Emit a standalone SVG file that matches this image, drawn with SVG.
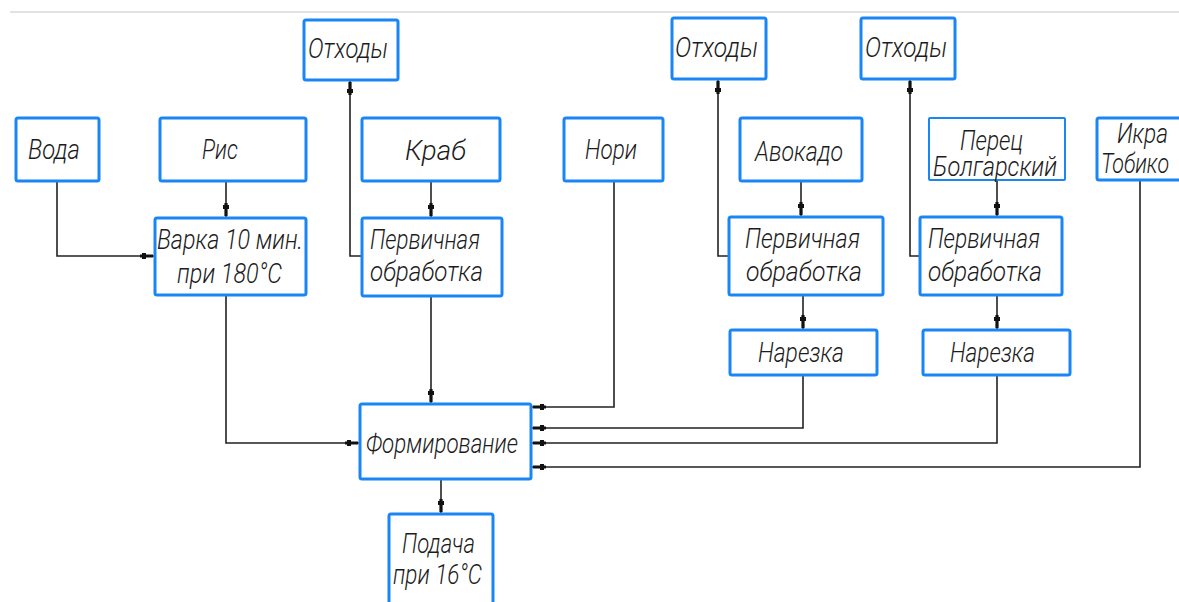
<svg xmlns="http://www.w3.org/2000/svg" width="1179" height="602" viewBox="0 0 1179 602">
  <defs>
    <style>
      .box { fill: #ffffff; stroke: #1a86f5; stroke-width: 3; }
      .thin { stroke-width: 2; }
      .lbl { font-family: Roboto, "Liberation Sans Narrow", "DejaVu Sans Condensed", sans-serif; font-style: italic; font-weight: 300; font-size: 28px; fill: #1c1c1c; }
      .wire { fill: none; stroke: #222222; stroke-width: 1.6; }
    </style>
    <marker id="tip" markerUnits="userSpaceOnUse" viewBox="-16 -4 17 8" refX="0" refY="0" markerWidth="17" markerHeight="8" orient="auto">
      <path d="M-14,-1.6 H-1 V1.6 H-14 Z M-12,-3 H-8 V3 H-12 Z" fill="#111111"/>
    </marker>
  </defs>

  <rect width="1179" height="602" fill="#ffffff"/>
  <line x1="10" y1="12" x2="1179" y2="12" stroke="#d8d8d8" stroke-width="1.5"/>

  <!-- connectors -->
  <g id="connectors">
    <path class="wire" d="M57,181 V256 H154" marker-end="url(#tip)"/>
    <path class="wire" d="M226,181 V217" marker-end="url(#tip)"/>
    <path class="wire" d="M362,256 H350 V81" marker-end="url(#tip)"/>
    <path class="wire" d="M431,181 V217" marker-end="url(#tip)"/>
    <path class="wire" d="M431,296 V403" marker-end="url(#tip)"/>
    <path class="wire" d="M226,295 V443 H359" marker-end="url(#tip)"/>
    <path class="wire" d="M614,181 V407 H532" marker-end="url(#tip)"/>
    <path class="wire" d="M729,256 H718 V80" marker-end="url(#tip)"/>
    <path class="wire" d="M801,182 V216" marker-end="url(#tip)"/>
    <path class="wire" d="M803,295 V329" marker-end="url(#tip)"/>
    <path class="wire" d="M803,375 V428 H532" marker-end="url(#tip)"/>
    <path class="wire" d="M920,256 H910 V80" marker-end="url(#tip)"/>
    <path class="wire" d="M997,180 V216" marker-end="url(#tip)"/>
    <path class="wire" d="M997,295 V329" marker-end="url(#tip)"/>
    <path class="wire" d="M997,375 V443 H532" marker-end="url(#tip)"/>
    <path class="wire" d="M1140,180 V467 H532" marker-end="url(#tip)"/>
    <path class="wire" d="M441,479 V513" marker-end="url(#tip)"/>
  </g>

  <!-- nodes -->
  <g id="waste1">
    <rect class="box" x="304" y="20" width="94" height="60" rx="2"/>
    <text class="lbl" x="308" y="58" textLength="80" lengthAdjust="spacingAndGlyphs">Отходы</text>
  </g>
  <g id="waste2">
    <rect class="box" x="672" y="18" width="94" height="61" rx="2"/>
    <text class="lbl" x="675" y="57" textLength="83" lengthAdjust="spacingAndGlyphs">Отходы</text>
  </g>
  <g id="waste3">
    <rect class="box" x="861" y="18" width="94" height="61" rx="2"/>
    <text class="lbl" x="865" y="57" textLength="82" lengthAdjust="spacingAndGlyphs">Отходы</text>
  </g>

  <g id="water">
    <rect class="box" x="16" y="118" width="83" height="63" rx="2"/>
    <text class="lbl" x="28" y="159" textLength="52" lengthAdjust="spacingAndGlyphs">Вода</text>
  </g>
  <g id="rice">
    <rect class="box" x="160" y="118" width="146" height="63" rx="2"/>
    <text class="lbl" x="202" y="159" textLength="36" lengthAdjust="spacingAndGlyphs">Рис</text>
  </g>
  <g id="crab">
    <rect class="box" x="362" y="118" width="138" height="63" rx="2"/>
    <text class="lbl" x="405" y="160" textLength="61" lengthAdjust="spacingAndGlyphs">Краб</text>
  </g>
  <g id="nori">
    <rect class="box" x="564" y="118" width="99" height="63" rx="2"/>
    <text class="lbl" x="585" y="159" textLength="52" lengthAdjust="spacingAndGlyphs">Нори</text>
  </g>
  <g id="avocado">
    <rect class="box" x="740" y="118" width="122" height="63" rx="2"/>
    <text class="lbl" x="755" y="161" textLength="88" lengthAdjust="spacingAndGlyphs">Авокадо</text>
  </g>
  <g id="pepper">
    <rect class="box thin" x="929" y="118" width="136" height="62" rx="1"/>
    <text class="lbl" x="960" y="150" textLength="63" lengthAdjust="spacingAndGlyphs">Перец</text>
    <text class="lbl" x="933" y="176" textLength="124" lengthAdjust="spacingAndGlyphs">Болгарский</text>
  </g>
  <g id="roe">
    <rect class="box" x="1097" y="118" width="100" height="62" rx="2"/>
    <text class="lbl" x="1117" y="143" textLength="51" lengthAdjust="spacingAndGlyphs">Икра</text>
    <text class="lbl" x="1101" y="173" textLength="68" lengthAdjust="spacingAndGlyphs">Тобико</text>
  </g>

  <g id="boil">
    <rect class="box" x="155" y="218" width="151" height="77" rx="2"/>
    <text class="lbl" x="157" y="249" textLength="146" lengthAdjust="spacingAndGlyphs">Варка 10 мин.</text>
    <text class="lbl" x="177" y="283" textLength="105" lengthAdjust="spacingAndGlyphs">при 180°C</text>
  </g>
  <g id="prep1">
    <rect class="box" x="362" y="218" width="140" height="78" rx="2"/>
    <text class="lbl" x="370" y="249" textLength="110" lengthAdjust="spacingAndGlyphs">Первичная</text>
    <text class="lbl" x="370" y="281" textLength="113" lengthAdjust="spacingAndGlyphs">обработка</text>
  </g>
  <g id="prep2">
    <rect class="box" x="729" y="217" width="154" height="78" rx="2"/>
    <text class="lbl" x="745" y="248" textLength="115" lengthAdjust="spacingAndGlyphs">Первичная</text>
    <text class="lbl" x="746" y="281" textLength="116" lengthAdjust="spacingAndGlyphs">обработка</text>
  </g>
  <g id="prep3">
    <rect class="box" x="920" y="217" width="142" height="78" rx="2"/>
    <text class="lbl" x="928" y="248" textLength="112" lengthAdjust="spacingAndGlyphs">Первичная</text>
    <text class="lbl" x="928" y="281" textLength="114" lengthAdjust="spacingAndGlyphs">обработка</text>
  </g>

  <g id="slice1">
    <rect class="box" x="730" y="330" width="147" height="45" rx="2"/>
    <text class="lbl" x="758" y="362" textLength="86" lengthAdjust="spacingAndGlyphs">Нарезка</text>
  </g>
  <g id="slice2">
    <rect class="box" x="923" y="330" width="147" height="45" rx="2"/>
    <text class="lbl" x="950" y="362" textLength="85" lengthAdjust="spacingAndGlyphs">Нарезка</text>
  </g>

  <g id="forming">
    <rect class="box" x="360" y="404" width="171" height="75" rx="2"/>
    <text class="lbl" x="366" y="453" textLength="152" lengthAdjust="spacingAndGlyphs">Формирование</text>
  </g>
  <g id="serving">
    <rect class="box" x="389" y="514" width="104" height="100" rx="2"/>
    <text class="lbl" x="402" y="553" textLength="73" lengthAdjust="spacingAndGlyphs">Подача</text>
    <text class="lbl" x="393" y="584" textLength="89" lengthAdjust="spacingAndGlyphs">при 16°C</text>
  </g>
</svg>
